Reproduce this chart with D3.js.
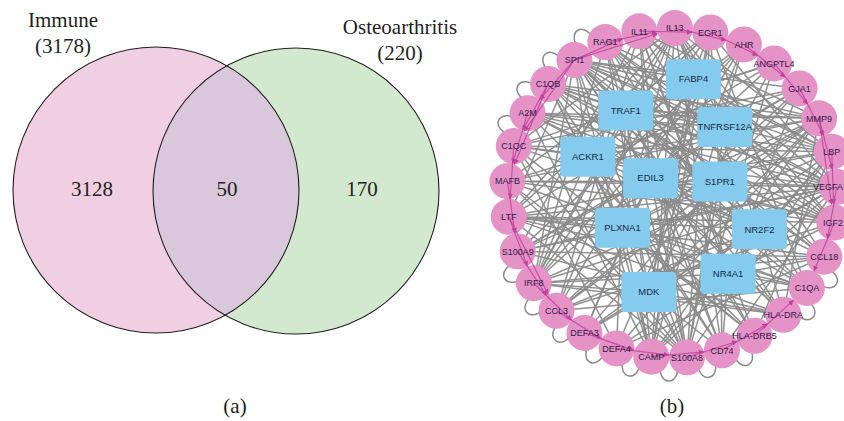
<!DOCTYPE html>
<html><head><meta charset="utf-8">
<script src="https://cdn.jsdelivr.net/npm/d3@7"></script>
<style>html,body{margin:0;padding:0;background:#fff;}svg{display:block;}</style>
</head><body>
<svg id="chart" width="844" height="421"></svg>
<script>
// ---------- DATA ----------
const setNames = ["Immune", "Osteoarthritis"];
const setTotals = [3178, 220];
const regionCounts = [3128, 50, 170];      // Immune only, both, Osteoarthritis only
const panelLabels = ["(a)", "(b)"];

// ring (pink) genes, clockwise from top
const ringGenes = ["IL13","EGR1","AHR","ANGPTL4","GJA1","MMP9","LBP","VEGFA","IGF2","CCL18","C1QA",
  "HLA-DRA","HLA-DRB5","CD74","S100A8","CAMP","DEFA4","DEFA3","CCL3","IRF8","S100A9","LTF","MAFB",
  "C1QC","A2M","C1QB","SPI1","RAG1","IL11"];
// inner (blue) genes and their relative layout inside the ring (-1..1)
const hubGenes = ["FABP4","TRAF1","TNFRSF12A","ACKR1","EDIL3","S1PR1","PLXNA1","NR2F2","NR4A1","MDK"];
const hubLayoutX = [0.13,-0.28,0.32,-0.51,-0.13,0.29,-0.30,0.53,0.34,-0.14];
const hubLayoutY = [-0.69,-0.50,-0.40,-0.22,-0.09,-0.07,0.21,0.22,0.49,0.60];

const grayEdges = [
["SPI1","GJA1"],["SPI1","MMP9"],["SPI1","LBP"],["SPI1","VEGFA"],["SPI1","IGF2"],["SPI1","CCL18"],["SPI1","C1QA"],["SPI1","HLA-DRA"],["SPI1","S100A8"],["SPI1","CAMP"],["SPI1","IRF8"],["SPI1","LTF"],["SPI1","TRAF1"],["SPI1","FABP4"],["SPI1","ACKR1"],["SPI1","EDIL3"],["SPI1","TNFRSF12A"],["SPI1","NR2F2"],
["C1QB","MMP9"],["C1QB","LBP"],["C1QB","VEGFA"],["C1QB","IGF2"],["C1QB","HLA-DRA"],["C1QB","CD74"],["C1QB","TRAF1"],["C1QB","S1PR1"],["C1QB","PLXNA1"],["C1QB","S100A8"],
["A2M","VEGFA"],["A2M","LBP"],["A2M","MMP9"],["A2M","IGF2"],["A2M","CCL18"],["A2M","TNFRSF12A"],["A2M","EDIL3"],["A2M","CAMP"],
["C1QC","LBP"],["C1QC","VEGFA"],["C1QC","GJA1"],["C1QC","ANGPTL4"],["C1QC","NR2F2"],["C1QC","ACKR1"],["C1QC","HLA-DRB5"],["C1QC","DEFA4"],
["MAFB","VEGFA"],["MAFB","IGF2"],["MAFB","MMP9"],["MAFB","ACKR1"],["MAFB","S1PR1"],["MAFB","CD74"],["MAFB","C1QA"],
["LTF","LBP"],["LTF","VEGFA"],["LTF","IGF2"],["LTF","CCL18"],["LTF","EGR1"],["LTF","IL13"],["LTF","PLXNA1"],["LTF","NR2F2"],["LTF","S100A8"],
["S100A9","VEGFA"],["S100A9","MMP9"],["S100A9","GJA1"],["S100A9","AHR"],["S100A9","IL11"],["S100A9","PLXNA1"],["S100A9","EDIL3"],["S100A9","HLA-DRA"],
["IRF8","LBP"],["IRF8","VEGFA"],["IRF8","ANGPTL4"],["IRF8","EGR1"],["IRF8","IL13"],["IRF8","RAG1"],["IRF8","TRAF1"],["IRF8","ACKR1"],["IRF8","NR4A1"],["IRF8","MDK"],["IRF8","CCL18"],["IRF8","AHR"],
["CCL3","MMP9"],["CCL3","GJA1"],["CCL3","IL13"],["CCL3","IL11"],["CCL3","FABP4"],["CCL3","S1PR1"],["CCL3","NR2F2"],["CCL3","IGF2"],["CCL3","C1QA"],
["DEFA3","VEGFA"],["DEFA3","LBP"],["DEFA3","EGR1"],["DEFA3","MDK"],["DEFA3","EDIL3"],
["DEFA4","MMP9"],["DEFA4","AHR"],["DEFA4","TRAF1"],["DEFA4","NR4A1"],["DEFA4","CCL18"],
["CAMP","IL13"],["CAMP","EGR1"],["CAMP","AHR"],["CAMP","ACKR1"],["CAMP","TRAF1"],["CAMP","PLXNA1"],["CAMP","FABP4"],["CAMP","LBP"],
["S100A8","IL11"],["S100A8","RAG1"],["S100A8","EGR1"],["S100A8","ANGPTL4"],["S100A8","TNFRSF12A"],["S100A8","EDIL3"],["S100A8","MDK"],["S100A8","S1PR1"],["S100A8","MAFB"],["S100A8","C1QC"],
["CD74","IL13"],["CD74","RAG1"],["CD74","ACKR1"],["CD74","EDIL3"],["CD74","S1PR1"],["CD74","NR4A1"],
["HLA-DRB5","IL11"],["HLA-DRB5","SPI1"],["HLA-DRB5","TRAF1"],["HLA-DRB5","PLXNA1"],["HLA-DRB5","A2M"],
["HLA-DRA","RAG1"],["HLA-DRA","EDIL3"],["HLA-DRA","NR2F2"],["HLA-DRA","MDK"],["HLA-DRA","LTF"],["HLA-DRA","IRF8"],
["C1QA","IL11"],["C1QA","EGR1"],["C1QA","ACKR1"],["C1QA","NR4A1"],["C1QA","PLXNA1"],["C1QA","C1QB"],["C1QA","LTF"],
["CCL18","IL13"],["CCL18","RAG1"],["CCL18","TRAF1"],["CCL18","MDK"],["CCL18","S100A9"],
["IGF2","IL13"],["IGF2","RAG1"],["IGF2","FABP4"],["IGF2","EDIL3"],["IGF2","NR4A1"],["IGF2","ACKR1"],
["VEGFA","IL11"],["VEGFA","EGR1"],["VEGFA","TRAF1"],["VEGFA","TNFRSF12A"],["VEGFA","PLXNA1"],["VEGFA","MDK"],["VEGFA","S1PR1"],["VEGFA","NR2F2"],["VEGFA","CAMP"],["VEGFA","CD74"],
["LBP","IL13"],["LBP","RAG1"],["LBP","FABP4"],["LBP","EDIL3"],["LBP","NR4A1"],["LBP","S100A8"],["LBP","HLA-DRB5"],
["MMP9","IL11"],["MMP9","TRAF1"],["MMP9","ACKR1"],["MMP9","PLXNA1"],["MMP9","S1PR1"],["MMP9","MDK"],["MMP9","HLA-DRA"],["MMP9","CAMP"],
["IL13","FABP4"],["IL13","TNFRSF12A"],["IL13","ACKR1"],["IL13","NR2F2"],["IL13","PLXNA1"],["IL13","C1QC"],
["IL11","FABP4"],["IL11","EDIL3"],["IL11","NR4A1"],
["EGR1","TRAF1"],["EGR1","S1PR1"],["EGR1","MDK"],["EGR1","MAFB"],
["AHR","ACKR1"],["AHR","PLXNA1"],
["RAG1","TNFRSF12A"],["RAG1","NR2F2"],["RAG1","MDK"],
["ANGPTL4","TRAF1"],["ANGPTL4","MDK"],["ANGPTL4","LTF"],
["GJA1","ACKR1"],["GJA1","EDIL3"],["GJA1","NR4A1"],["GJA1","DEFA3"],
["TRAF1","TNFRSF12A"],["ACKR1","S1PR1"],["EDIL3","NR2F2"],["PLXNA1","NR4A1"],["FABP4","MDK"],["TRAF1","NR2F2"],["ACKR1","NR2F2"],["PLXNA1","S1PR1"]
];
// curved gray edges between ring neighbours, bulging outside the ring
const outerArcs = [["C1QC","A2M"],["A2M","C1QB"],["C1QB","SPI1"],["SPI1","RAG1"],["S100A9","IRF8"],["IRF8","CCL3"],
  ["CCL3","DEFA3"],["DEFA3","DEFA4"],["DEFA4","CAMP"],["CAMP","S100A8"],["S100A8","CD74"],["CD74","HLA-DRB5"],
  ["HLA-DRA","C1QA"],["C1QA","CCL18"]];
const pinkEdges = [
["SPI1","IL11"],["SPI1","IL13"],["RAG1","IL13"],["IL11","EGR1"],["IL13","AHR"],["EGR1","ANGPTL4"],["AHR","GJA1"],
["ANGPTL4","MMP9"],["GJA1","LBP"],["MMP9","VEGFA"],["LBP","IGF2"],["MMP9","IGF2"],["VEGFA","CCL18"],["IGF2","C1QA"],
["HLA-DRB5","C1QA"],["CD74","HLA-DRA"],["S100A8","HLA-DRB5"],["CAMP","CD74"],["DEFA4","S100A8"],["DEFA3","CAMP"],
["CCL3","DEFA4"],["IRF8","DEFA3"],["S100A9","CCL3"],["LTF","IRF8"],["LTF","CCL3"],["MAFB","S100A9"],["C1QC","LTF"],
["A2M","MAFB"],["C1QB","C1QC"],["SPI1","A2M"],["SPI1","C1QC"],["C1QB","MAFB"]
];

// ---------- DRAW ----------
const W = 844, H = 421;
const svg = d3.select("#chart");
svg.append("rect").attr("width",W).attr("height",H).attr("fill","#fff");

const serif = "'Liberation Serif', 'Times New Roman', serif";
const sans = "'Liberation Sans', Arial, sans-serif";
const ink = "#231f20";

// ===== Panel (a): Venn =====
const vR = 143;
const vC = [[156,190],[296,191]];
const venn = svg.append("g");
const defs = svg.append("defs");
defs.append("clipPath").attr("id","clipL").append("circle")
  .attr("cx",vC[0][0]).attr("cy",vC[0][1]).attr("r",vR);
venn.append("circle").attr("cx",vC[0][0]).attr("cy",vC[0][1]).attr("r",vR).attr("fill","#f0cfe3");
venn.append("circle").attr("cx",vC[1][0]).attr("cy",vC[1][1]).attr("r",vR).attr("fill","#d2e9cf");
venn.append("circle").attr("cx",vC[1][0]).attr("cy",vC[1][1]).attr("r",vR).attr("fill","#d9c8dc")
  .attr("clip-path","url(#clipL)");
vC.forEach(c=>venn.append("circle").attr("cx",c[0]).attr("cy",c[1]).attr("r",vR)
  .attr("fill","none").attr("stroke",ink).attr("stroke-width",1.1));

const setLabelX = [63, 400], setLabelY = [27, 34];
setNames.forEach((n,i)=>{
  venn.append("text").attr("x",setLabelX[i]).attr("y",setLabelY[i]).attr("text-anchor","middle")
    .attr("font-family",serif).attr("font-size",21).attr("fill",ink).text(n);
  venn.append("text").attr("x",setLabelX[i]).attr("y",setLabelY[i]+26).attr("text-anchor","middle")
    .attr("font-family",serif).attr("font-size",21).attr("fill",ink).text("(" + setTotals[i] + ")");
});
const regX = [vC[0][0]-64, (vC[0][0]+vC[1][0])/2+1, vC[1][0]+66];
regionCounts.forEach((v,i)=>{
  venn.append("text").attr("x",regX[i]).attr("y",196).attr("text-anchor","middle")
    .attr("font-family",serif).attr("font-size",21).attr("fill",ink).text(v);
});
const panelX = [235, 672];
panelLabels.forEach((p,i)=>svg.append("text").attr("x",panelX[i]).attr("y",413).attr("text-anchor","middle")
  .attr("font-family",serif).attr("font-size",21).attr("fill",ink).text(p));

// ===== Panel (b): network =====
const cx = 672, cy = 193, R = 165, nodeR = 18;
const net = svg.append("g");
const angle = d3.scaleLinear().domain([0, ringGenes.length]).range([Math.PI/180, 2*Math.PI + Math.PI/180]);
const xS = d3.scaleLinear().domain([-1,1]).range([cx-R, cx+R]);
const yS = d3.scaleLinear().domain([-1,1]).range([cy-R, cy+R]);
const pos = {};
ringGenes.forEach((g,i)=>{
  const a = angle(i);
  pos[g] = {x: xS(Math.sin(a)), y: yS(-Math.cos(a)), a: a, i: i, ring: true};
});
hubGenes.forEach((g,i)=>{ pos[g] = {x: xS(hubLayoutX[i]), y: yS(hubLayoutY[i]), ring:false}; });

const edgeCol = "#8b8b8b";
net.append("g").selectAll("line").data(grayEdges).join("line")
  .attr("x1",d=>pos[d[0]].x).attr("y1",d=>pos[d[0]].y)
  .attr("x2",d=>pos[d[1]].x).attr("y2",d=>pos[d[1]].y)
  .attr("stroke",edgeCol).attr("stroke-width",1.5).attr("stroke-opacity",0.95);

// outer loops between neighbours
function polar(a, r, t){ // angle, radius, tangential offset
  const ux = Math.sin(a), uy = -Math.cos(a), px = Math.cos(a), py = Math.sin(a);
  return [cx + ux*r + px*t, cy + uy*r + py*t];
}
net.append("g").selectAll("path").data(outerArcs).join("path")
  .attr("d",d=>{
    const a0 = pos[d[0]].a, a1 = pos[d[1]].a;
    let am = (a0 + a1)/2;
    if (Math.abs(a1 - a0) > Math.PI) am += Math.PI;
    const s = 8;
    const p0 = polar(am, R+2, -s), p1 = polar(am, R+2, s);
    const c0 = polar(am, R+30, -s*1.8), c1 = polar(am, R+30, s*1.8);
    return `M${p0} C${c0} ${c1} ${p1}`;
  })
  .attr("fill","none").attr("stroke",edgeCol).attr("stroke-width",1.5);

// pink nodes
net.append("g").selectAll("circle").data(ringGenes).join("circle")
  .attr("cx",g=>pos[g].x).attr("cy",g=>pos[g].y).attr("r",nodeR).attr("fill","#e592c7");

// blue hub nodes
const bw = 55, bh = 40;
net.append("g").selectAll("rect").data(hubGenes).join("rect")
  .attr("x",g=>pos[g].x-bw/2).attr("y",g=>pos[g].y-bh/2).attr("width",bw).attr("height",bh)
  .attr("rx",4).attr("fill","#84cbee");

// magenta edges with arrow
defs.append("marker").attr("id","arr").attr("viewBox","0 0 10 10").attr("refX",10).attr("refY",5)
  .attr("markerWidth",4.5).attr("markerHeight",4.5).attr("orient","auto")
  .append("path").attr("d","M0,0 L10,5 L0,10 z").attr("fill","#c0409c");
net.append("g").selectAll("line").data(pinkEdges).join("line")
  .attr("x1",d=>pos[d[0]].x).attr("y1",d=>pos[d[0]].y)
  .attr("x2",d=>{const a=pos[d[0]],b=pos[d[1]];const L=Math.hypot(b.x-a.x,b.y-a.y);return b.x-(b.x-a.x)/L*nodeR;})
  .attr("y2",d=>{const a=pos[d[0]],b=pos[d[1]];const L=Math.hypot(b.x-a.x,b.y-a.y);return b.y-(b.y-a.y)/L*nodeR;})
  .attr("stroke","#c0409c").attr("stroke-width",1.2).attr("stroke-opacity",0.8)
  .attr("marker-end","url(#arr)");

// labels (kept inside the canvas)
net.append("g").selectAll("text").data(ringGenes.concat(hubGenes)).join("text")
  .attr("y",g=>pos[g].y+3.3).attr("text-anchor","middle")
  .attr("font-family",sans).attr("font-size",g=>pos[g].ring?9:9.5)
  .attr("fill",g=>pos[g].ring?"#2e1c46":"#1b2a45")
  .text(g=>g)
  .attr("x",function(g){
    const w = this.getComputedTextLength();
    return Math.min(pos[g].x, W - 1 - w/2);
  });
</script>
</body></html>
